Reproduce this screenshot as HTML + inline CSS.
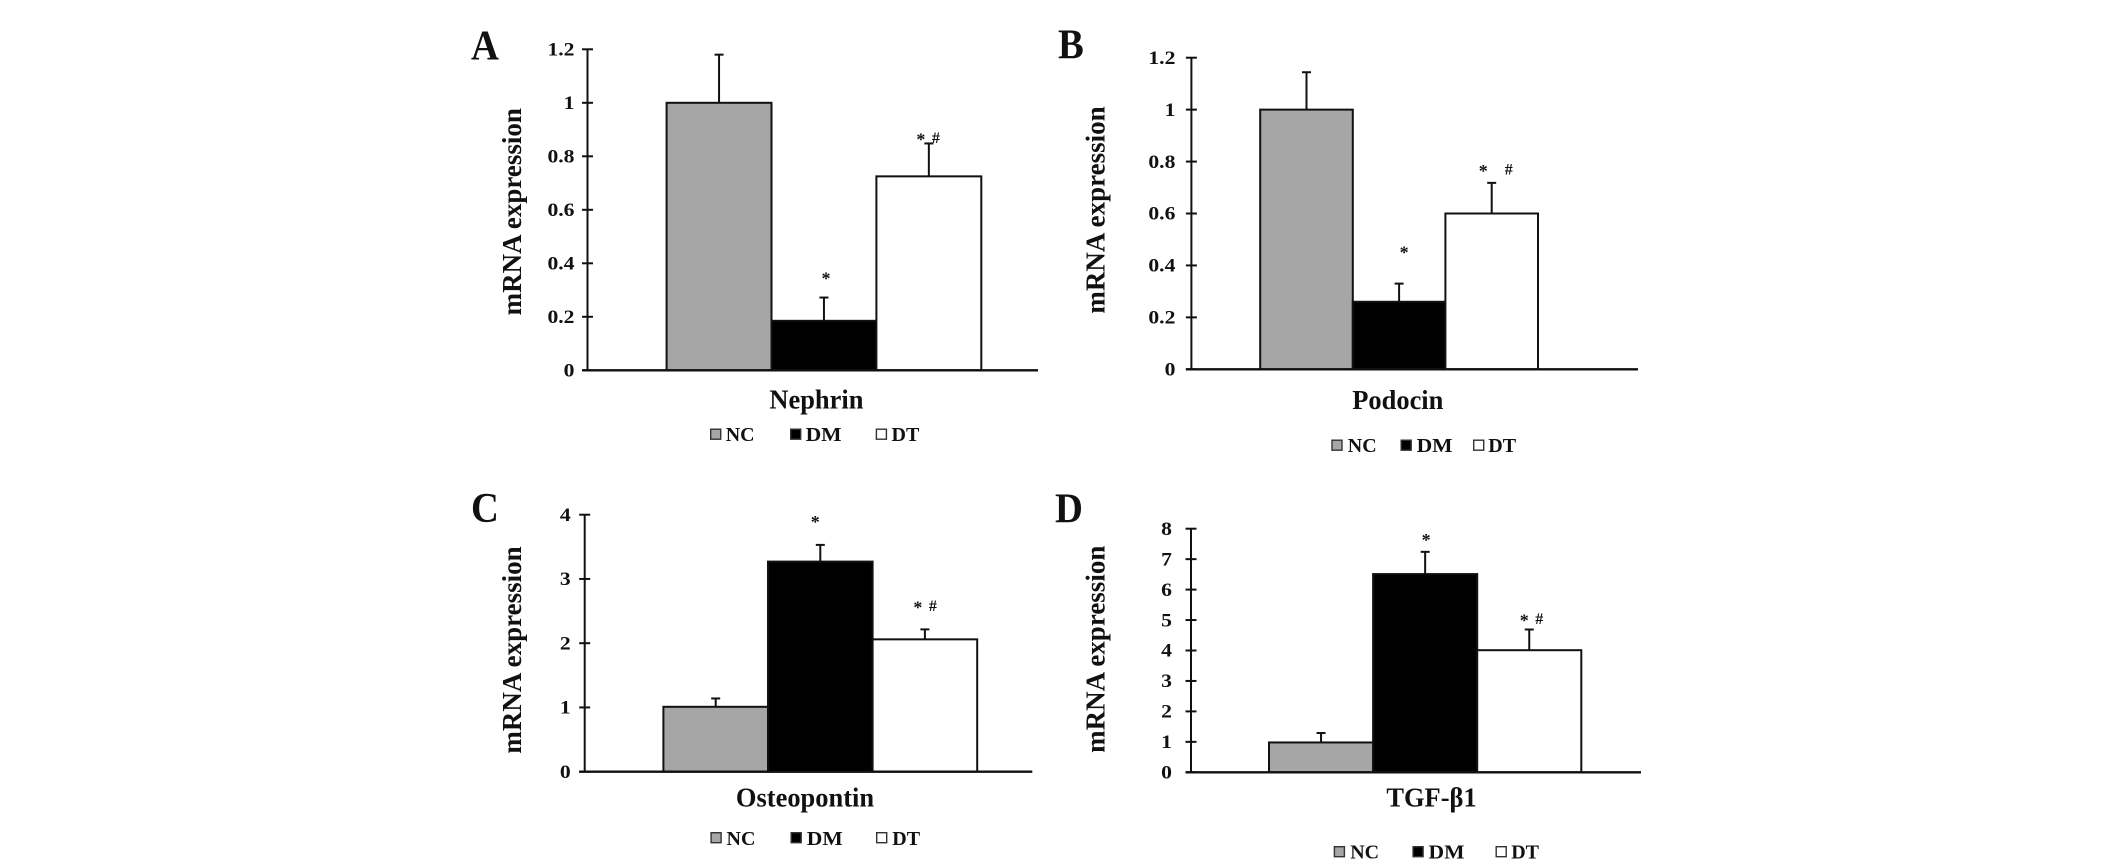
<!DOCTYPE html>
<html>
<head>
<meta charset="utf-8">
<title>mRNA expression bar charts</title>
<style>
html,body{margin:0;padding:0;background:#fff;}
svg{display:block;filter:blur(0.35px);}
text{font-family:"Liberation Serif",serif;font-weight:bold;fill:#111;}
</style>
</head>
<body>
<svg id="figure" xmlns="http://www.w3.org/2000/svg" width="2126" height="865" viewBox="0 0 2126 865"></svg>
<script>
// Data
const groups = ['NC', 'DM', 'DT'];
const fills = ['#a6a6a6', '#000000', '#ffffff'];
const yAxisTitle = 'mRNA expression';

const nephrinValues = [1, 0.185, 0.725];
const nephrinErrors = [0.18, 0.087, 0.123];
const nephrinTicks = ['0', '0.2', '0.4', '0.6', '0.8', '1', '1.2'];
const nephrinMarks = ['', '*', '* #'];

const podocinValues = [1, 0.26, 0.6];
const podocinErrors = [0.144, 0.07, 0.118];
const podocinTicks = ['0', '0.2', '0.4', '0.6', '0.8', '1', '1.2'];
const podocinMarks = ['', '*', '* #'];

const osteopontinValues = [1.01, 3.27, 2.06];
const osteopontinErrors = [0.13, 0.26, 0.155];
const osteopontinTicks = ['0', '1', '2', '3', '4'];
const osteopontinMarks = ['', '*', '* #'];

const tgfValues = [0.98, 6.51, 4.01];
const tgfErrors = [0.31, 0.73, 0.68];
const tgfTicks = ['0', '1', '2', '3', '4', '5', '6', '7', '8'];
const tgfMarks = ['', '*', '* #'];

// Panel layouts (pixels)
const legendStretch = [1, 1.08, 1];
const panels = [
  {id:'nephrin', letter:'A', title:'Nephrin', values:nephrinValues, errors:nephrinErrors, ticks:nephrinTicks, marks:nephrinMarks,
   ax:587.5, top:49.3, y0:370.3, right:1038, bar0:666.6, barW:104.9, lx:471, ly:59.5, labelGap:13,
   ylx:521, yly:211.7, tx:816.4, ty:408.3,
   legendY:428.5, legendText:441, legendSq:[710,790,875.7], legendTx:[725.7,805.6,891.5],
   markUp:[0,21,6], starDx:[0,2,-8], hashDx:[0,0,7]},
  {id:'podocin', letter:'B', title:'Podocin', values:podocinValues, errors:podocinErrors, ticks:podocinTicks, marks:podocinMarks,
   ax:1191.4, top:57.7, y0:369.3, right:1638, bar0:1260.2, barW:92.6, lx:1058, ly:58.5, labelGap:16,
   ylx:1104.4, yly:210, tx:1397.8, ty:409,
   legendY:439.5, legendText:452, legendSq:[1331.3,1400.5,1473], legendTx:[1347.8,1416.6,1488.3],
   markUp:[0,33,14], starDx:[0,5,-8.5], hashDx:[0,0,17]},
  {id:'osteopontin', letter:'C', title:'Osteopontin', values:osteopontinValues, errors:osteopontinErrors, ticks:osteopontinTicks, marks:osteopontinMarks,
   ax:584.7, top:514.7, y0:771.7, right:1032.3, bar0:663.4, barW:104.6, lx:471, ly:522, labelGap:14,
   ylx:521, yly:650, tx:805, ty:806.7,
   legendY:832, legendText:845, legendSq:[710.4,790.5,876], legendTx:[726.5,806.8,892.3],
   markUp:[0,25,24], starDx:[0,-5,-7], hashDx:[0,0,8]},
  {id:'tgf-beta1', letter:'D', title:'TGF-\u03B21', values:tgfValues, errors:tgfErrors, ticks:tgfTicks, marks:tgfMarks,
   ax:1191, top:528.7, y0:772.3, right:1641, bar0:1269, barW:104.1, lx:1055, ly:522.7, labelGap:19,
   ylx:1104.4, yly:649.3, tx:1431.5, ty:806.7,
   legendY:846, legendText:858.6, legendSq:[1333.7,1412.4,1495.5], legendTx:[1350.2,1428.5,1511.2],
   markUp:[0,14,11], starDx:[0,1,-5], hashDx:[0,0,10]}
];

const NS = 'http://www.w3.org/2000/svg';
const root = document.getElementById('figure');

function make(tag, parent, attrs) {
  const el = document.createElementNS(NS, tag);
  for (const k in attrs) el.setAttribute(k, attrs[k]);
  parent.appendChild(el);
  return el;
}

function line(parent, x1, y1, x2, y2, w) {
  return make('line', parent, {x1:x1, y1:y1, x2:x2, y2:y2, stroke:'#111', 'stroke-width':w});
}

function label(parent, str, x, y, size, sx, anchor) {
  const el = make('text', parent, {
    transform:'translate(' + x + ',' + y + ') scale(' + sx + ',1)',
    'font-size':size,
    'text-anchor':anchor
  });
  el.textContent = str;
  return el;
}

panels.forEach(function (p) {
  const g = make('g', root, {});
  
  

  const maxV = parseFloat(p.ticks[p.ticks.length - 1]);
  const yScale = function (v) { return p.y0 - (v / maxV) * (p.y0 - p.top); };
  const xScale = function (i) { return p.bar0 + i * p.barW; };

  const letter = label(g, p.letter, p.lx, p.ly, 42, 0.92, 'start');
  
  

  const yTitle = make('text', g, {
    transform:'translate(' + p.ylx + ',' + p.yly + ') rotate(-90)',
    'font-size':27,
    'text-anchor':'middle'
  });
  yTitle.textContent = yAxisTitle;
  
  

  // bars
  p.values.forEach(function (v, i) {
    const yTop = yScale(v);
    const bar = make('rect', g, {
      x:xScale(i), y:yTop, width:p.barW, height:p.y0 - yTop,
      fill:fills[i], stroke:'#111', 'stroke-width':2
    });
    
    

    const cx = xScale(i) + p.barW / 2;
    const capY = yScale(v + p.errors[i]);
    const eg = make('g', g, {});
    
    
    line(eg, cx, yTop, cx, capY, 2);
    line(eg, cx - 4.5, capY, cx + 4.5, capY, 2);

    const parts = p.marks[i].split(' ');
    parts.forEach(function (m) {
      if (!m) return;
      const isStar = m === '*';
      const mx = cx + (isStar ? p.starDx[i] : p.hashDx[i]);
      const my = capY - p.markUp[i] + (isStar ? 8 : 5.5);
      const mark = label(g, m, mx, my, isStar ? 18 : 16, 1, 'middle');
      
      
    });
  });

  // axes
  const yAxis = line(g, p.ax, p.top, p.ax, p.y0, 2);
  
  
  const xAxis = line(g, p.ax - 5.5, p.y0, p.right, p.y0, 2.4);
  
  

  p.ticks.forEach(function (t) {
    const ty = yScale(parseFloat(t));
    const tick = line(g, p.ax - 5.5, ty, p.ax + 5.5, ty, 2);
    
    
    const tl = label(g, t, p.ax - p.labelGap, ty + 6.2, 18.5, 1.17, 'end');
    
    
  });

  const xTitle = label(g, p.title, p.tx, p.ty, 27, 0.98, 'middle');
  
  

  // legend
  groups.forEach(function (name, i) {
    const lg = make('g', g, {});
    
    
    make('rect', lg, {
      x:p.legendSq[i] + 0.7, y:p.legendY + 0.7, width:10, height:10,
      fill:fills[i], stroke:'#333', 'stroke-width':1.4
    });
    label(lg, name, p.legendTx[i], p.legendText, 20, legendStretch[i], 'start');
  });
});
</script>
</body>
</html>
